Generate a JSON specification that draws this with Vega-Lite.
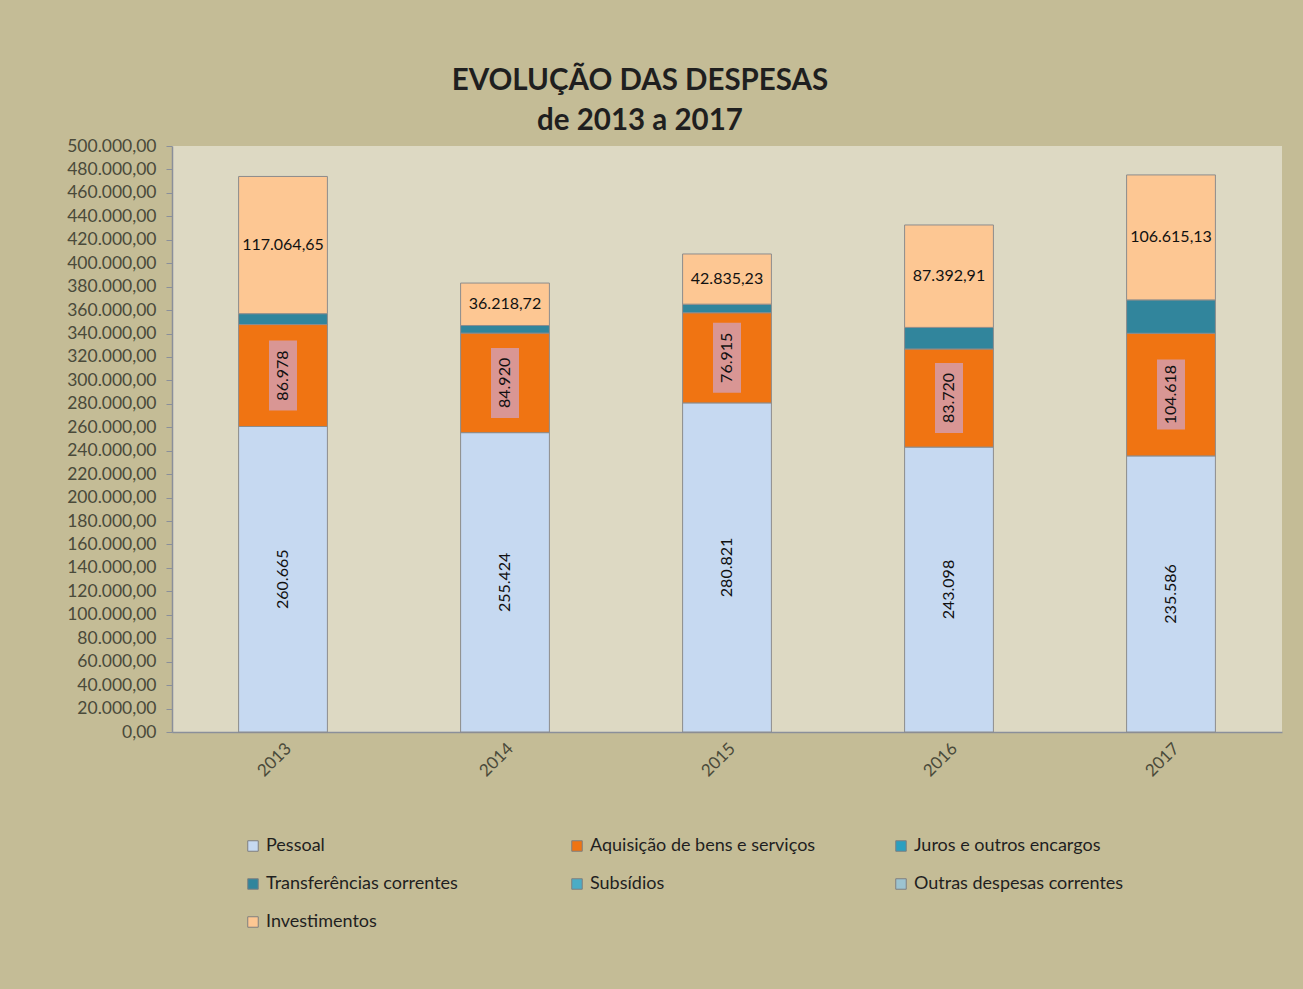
{
  "$schema": "https://vega.github.io/schema/vega-lite/v6.json",
  "autosize": "none",
  "width": 1110,
  "height": 586,
  "padding": {"left": 172, "top": 146, "right": 21, "bottom": 257},
  "background": "#c4bc96",
  "config": {
    "locale": {"number": {"decimal": ",", "thousands": ".", "grouping": [3], "currency": ["", ""]}},
    "view": {"fill": "#ddd9c3", "stroke": null},
    "font": "Lato",
    "axisY": {
      "title": null,
      "tickCount": 25,
      "format": ",.2f",
      "grid": false,
      "labelFontSize": 17.5,
      "labelColor": "#4a4a3a",
      "labelFont": "Lato",
      "tickColor": "#8a8f9a",
      "tickSize": 6,
      "labelPadding": 10,
      "domainColor": "#8a8f9a",
      "domainWidth": 1.5
    }
  },
  "title": {
    "text": ["EVOLUÇÃO DAS DESPESAS", "de 2013 a 2017"],
    "fontSize": 29.5,
    "fontWeight": "bold",
    "font": "Lato",
    "color": "#1f1f1f",
    "lineHeight": 40,
    "anchor": "middle",
    "frame": "group",
    "dx": -87,
    "offset": 1
  },
  "data": {
    "values": [
      {"ano": "2013", "categoria": "Pessoal", "valor": 260665, "ordem": 1},
      {"ano": "2013", "categoria": "Aquisição de bens e serviços", "valor": 86978, "ordem": 2},
      {"ano": "2013", "categoria": "Transferências correntes", "valor": 9300, "ordem": 4},
      {"ano": "2013", "categoria": "Investimentos", "valor": 117064.65, "ordem": 7},
      {"ano": "2014", "categoria": "Pessoal", "valor": 255424, "ordem": 1},
      {"ano": "2014", "categoria": "Aquisição de bens e serviços", "valor": 84920, "ordem": 2},
      {"ano": "2014", "categoria": "Transferências correntes", "valor": 6500, "ordem": 4},
      {"ano": "2014", "categoria": "Investimentos", "valor": 36218.72, "ordem": 7},
      {"ano": "2015", "categoria": "Pessoal", "valor": 280821, "ordem": 1},
      {"ano": "2015", "categoria": "Aquisição de bens e serviços", "valor": 76915, "ordem": 2},
      {"ano": "2015", "categoria": "Transferências correntes", "valor": 7300, "ordem": 4},
      {"ano": "2015", "categoria": "Investimentos", "valor": 42835.23, "ordem": 7},
      {"ano": "2016", "categoria": "Pessoal", "valor": 243098, "ordem": 1},
      {"ano": "2016", "categoria": "Aquisição de bens e serviços", "valor": 83720, "ordem": 2},
      {"ano": "2016", "categoria": "Transferências correntes", "valor": 18400, "ordem": 4},
      {"ano": "2016", "categoria": "Investimentos", "valor": 87392.91, "ordem": 7},
      {"ano": "2017", "categoria": "Pessoal", "valor": 235586, "ordem": 1},
      {"ano": "2017", "categoria": "Aquisição de bens e serviços", "valor": 104618, "ordem": 2},
      {"ano": "2017", "categoria": "Transferências correntes", "valor": 28500, "ordem": 4},
      {"ano": "2017", "categoria": "Investimentos", "valor": 106615.13, "ordem": 7}
    ]
  },
  "encoding": {
    "x": {
      "field": "ano",
      "type": "nominal",
      "scale": {"paddingInner": 0.6, "paddingOuter": 0.3},
      "axis": {
        "title": null,
        "labelAngle": -45,
        "labelFontSize": 17,
        "labelColor": "#4a4a3a",
        "labelFont": "Lato",
        "labelPadding": 8,
        "ticks": false,
        "domainColor": "#8a8f9a",
        "domainWidth": 1.5
      }
    }
  },
  "layer": [
    {
      "mark": {"type": "bar", "stroke": "#8c8c8c", "strokeWidth": 1},
      "encoding": {
        "y": {
          "field": "valor",
          "type": "quantitative",
          "stack": "zero",
          "scale": {"domain": [0, 500000], "nice": false},
          "title": null
        },
        "color": {
          "field": "categoria",
          "type": "nominal",
          "scale": {
            "domain": ["Pessoal", "Aquisição de bens e serviços", "Juros e outros encargos", "Transferências correntes", "Subsídios", "Outras despesas correntes", "Investimentos"],
            "range": ["#c6d9f1", "#f07412", "#2a9fc0", "#31859c", "#4bacc6", "#9cc3d0", "#fdc793"]
          },
          "legend": {
            "title": null,
            "orient": "none",
            "legendX": 72,
            "legendY": 691,
            "direction": "horizontal",
            "columns": 3,
            "gridAlign": "all",
            "columnPadding": 76,
            "rowPadding": 20,
            "symbolType": "square",
            "symbolSize": 110,
            "symbolStrokeColor": "#7f7f7f",
            "symbolStrokeWidth": 1,
            "labelFontSize": 18,
            "labelFont": "Lato",
            "labelColor": "#1f1f1f",
            "labelOffset": 4,
            "labelLimit": 400
          }
        },
        "order": {"field": "ordem", "type": "quantitative"}
      }
    },
    {
      "mark": {"type": "point", "shape": "M-0.4,-1H0.4V1H-0.4Z", "filled": true, "size": 4900, "color": "#d99694", "strokeWidth": 0},
      "encoding": {
        "y": {"field": "valor", "type": "quantitative", "stack": "zero", "bandPosition": 0.5, "title": null},
        "detail": {"field": "categoria"},
        "order": {"field": "ordem", "type": "quantitative"},
        "opacity": {"condition": {"test": "datum.categoria === 'Aquisição de bens e serviços'", "value": 1}, "value": 0}
      }
    },
    {
      "mark": {"type": "text", "angle": 270, "fontSize": 16, "font": "Lato", "color": "#111111", "baseline": "middle", "align": "center"},
      "encoding": {
        "y": {"field": "valor", "type": "quantitative", "stack": "zero", "bandPosition": 0.5, "title": null},
        "detail": {"field": "categoria"},
        "order": {"field": "ordem", "type": "quantitative"},
        "text": {
          "condition": {"test": "datum.categoria === 'Pessoal' || datum.categoria === 'Aquisição de bens e serviços'", "field": "valor", "type": "quantitative", "format": ",.0f"},
          "value": ""
        }
      }
    },
    {
      "mark": {"type": "text", "angle": 0, "fontSize": 16, "font": "Lato", "color": "#111111", "baseline": "middle", "align": "center"},
      "encoding": {
        "y": {"field": "valor", "type": "quantitative", "stack": "zero", "bandPosition": 0.5, "title": null},
        "detail": {"field": "categoria"},
        "order": {"field": "ordem", "type": "quantitative"},
        "text": {
          "condition": {"test": "datum.categoria === 'Investimentos'", "field": "valor", "type": "quantitative", "format": ",.2f"},
          "value": ""
        }
      }
    }
  ]
}
